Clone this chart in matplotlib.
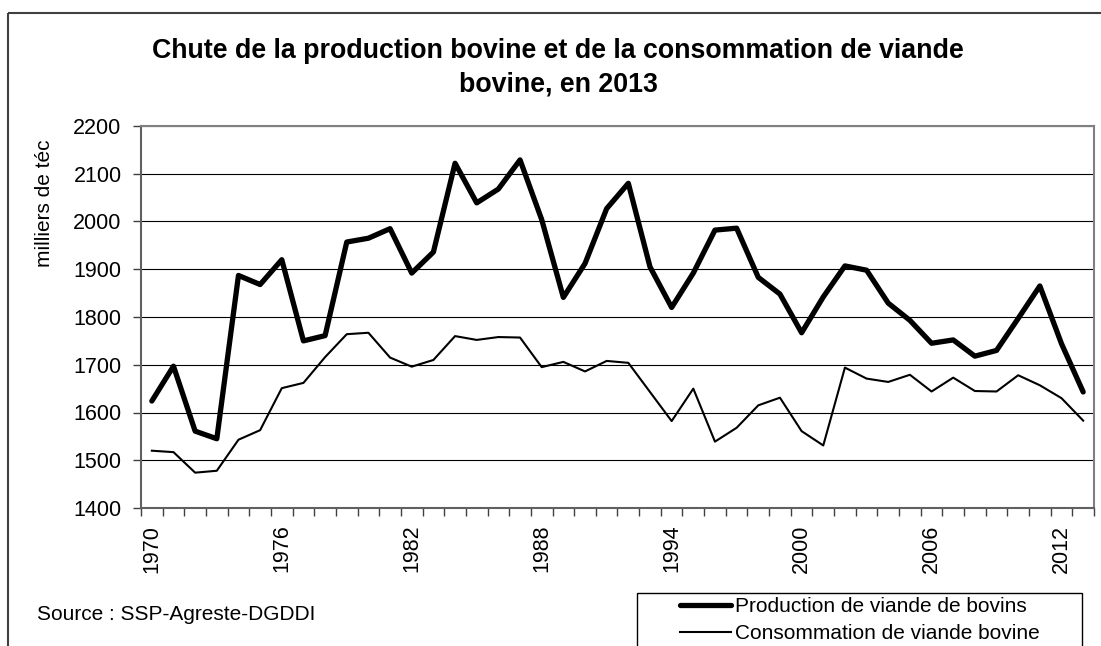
import matplotlib
matplotlib.use("Agg")
import matplotlib.pyplot as plt
from matplotlib.patches import Rectangle

plt.rcParams['font.family'] = ['Liberation Sans', 'DejaVu Sans']

years = list(range(1970, 2014))
production = [1624, 1697, 1561, 1545, 1887, 1868, 1920, 1750, 1761, 1957,
              1965, 1985, 1892, 1936, 2122, 2039, 2068, 2129, 2004, 1841,
              1912, 2027, 2080, 1905, 1820, 1892, 1982, 1986, 1883, 1848,
              1767, 1842, 1907, 1898, 1829, 1793, 1745, 1752, 1718, 1730,
              1797, 1865, 1744, 1643]
consommation = [1520, 1517, 1474, 1478, 1543, 1563, 1651, 1662, 1716, 1764,
                1767, 1715, 1696, 1710, 1760, 1752, 1758, 1757, 1695, 1706,
                1686, 1708, 1704, 1643, 1582, 1650, 1539, 1568, 1615, 1631,
                1561, 1531, 1694, 1671, 1664, 1679, 1644, 1673, 1645, 1644,
                1678, 1657, 1630, 1583]
tick_years = [1970, 1976, 1982, 1988, 1994, 2000, 2006, 2012]
y_ticks = [1400, 1500, 1600, 1700, 1800, 1900, 2000, 2100, 2200]
label_prod = "Production de viande de bovins"
label_cons = "Consommation de viande bovine"
title1 = "Chute de la production bovine et de la consommation de viande"
title2 = "bovine, en 2013"
ylabel = "milliers de téc"
source = "Source : SSP-Agreste-DGDDI"

W, H = 1101, 646
fig = plt.figure(figsize=(W / 100, H / 100), dpi=100)
fig.patch.set_facecolor('white')

L, R, T, B = 141, 1094, 126, 508
ax = fig.add_axes([L / W, 1 - B / H, (R - L) / W, (B - T) / H])

lp, = ax.plot(years, production, color='black', lw=3.8, solid_joinstyle='round',
              solid_capstyle='round', zorder=3)
lc, = ax.plot(years, consommation, color='black', lw=1.5, solid_joinstyle='round',
              zorder=3)

ax.set_xlim(years[0] - 0.5, years[-1] + 0.5)
ax.set_ylim(y_ticks[0], y_ticks[-1])
ax.set_yticks(y_ticks)
ax.set_yticklabels([str(v) for v in y_ticks], fontsize=15.5)
ax.set_xticks(tick_years)
ax.set_xticklabels([str(v) for v in tick_years], rotation=90, fontsize=15.5,
                   va='top', ha='center')
ax.set_xticks([y - 0.5 for y in years] + [years[-1] + 0.5], minor=True)
ax.tick_params(axis='x', which='major', length=0, pad=12)
ax.tick_params(axis='x', which='minor', length=6, width=1, direction='out', color='#404040')
ax.tick_params(axis='y', which='major', length=6, width=1, direction='out', pad=8, color='#404040')
ax.grid(axis='y', color='black', lw=0.8, zorder=1)
ax.set_axisbelow(True)
for s in ['top', 'right']:
    ax.spines[s].set_color('#808080')
    ax.spines[s].set_linewidth(1.5)
for s in ['left', 'bottom']:
    ax.spines[s].set_color('#606060')
    ax.spines[s].set_linewidth(1.5)

# overlay for frame, titles, legend
ov = fig.add_axes([0, 0, 1, 1], zorder=5)
ov.set_xlim(0, W)
ov.set_ylim(H, 0)
ov.axis('off')
ov.add_patch(Rectangle((7.5, 13), 1200, 800, fill=False, edgecolor='#404040', lw=1.5))

ov.text(558, 51, title1, ha='center', va='center', fontsize=19.3, fontweight='bold')
ov.text(558, 84, title2, ha='center', va='center', fontsize=19.3, fontweight='bold')
ov.text(45, 203, ylabel, ha='center', va='center', rotation=90, fontsize=15)
ov.text(37, 615, source, ha='left', va='center', fontsize=15)

# legend box
ov.add_patch(Rectangle((637, 593), 445, 200, fill=False, edgecolor='black', lw=1.0))
leg = ov.legend([lp, lc], [label_prod, label_cons], loc='upper left',
                bbox_to_anchor=(680 / W, 1 - 597 / H), bbox_transform=fig.transFigure,
                frameon=False, fontsize=15, handlelength=2.45, handletextpad=0.2,
                borderpad=0, borderaxespad=0, labelspacing=0.4)

fig.savefig('out.png', dpi=100)
